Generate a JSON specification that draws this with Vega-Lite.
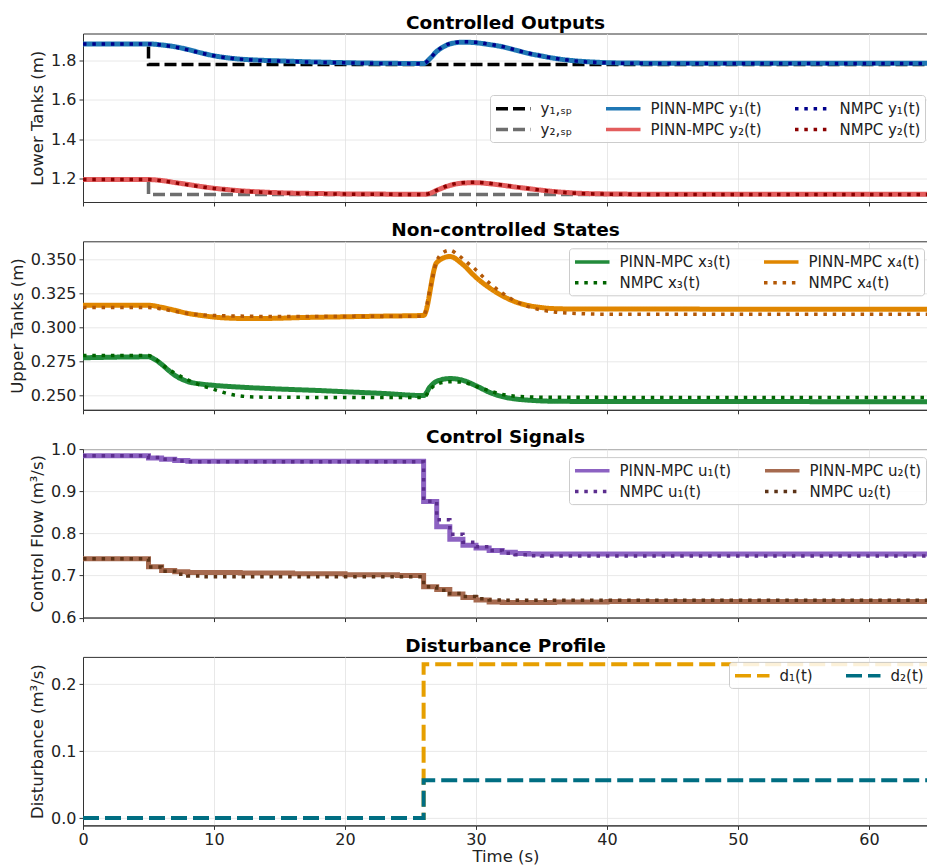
{
  "$schema": "https://vega.github.io/schema/vega-lite/v6.json",
  "padding": {"left": 8, "top": 12.5, "right": 0, "bottom": 0},
  "background": "white",
  "spacing": 38.8,
  "bounds": "flush",
  "config": {
    "font": "DejaVu Sans",
    "view": {"stroke": "#333333", "strokeWidth": 1},
    "title": {"font": "DejaVu Sans", "fontSize": 18.5, "fontWeight": "bold", "anchor": "middle", "offset": 1.5, "color": "#000000", "frame": "group"},
    "axis": {"labelFont": "DejaVu Sans", "labelFontSize": 16, "titleFont": "DejaVu Sans", "titleFontSize": 16.5, "titleFontWeight": "normal", "labelColor": "#222222", "titleColor": "#222222", "tickColor": "#333333", "domainColor": "#333333", "tickSize": 4, "labelPadding": 3, "gridColor": "#e2e2e2", "gridWidth": 0.8, "labelFlush": false, "labelOverlap": false},
    "axisY": {"titlePadding": 5},
    "legend": {"symbolType": "M-1,0H3.6", "symbolSize": 225, "symbolStrokeWidth": 3.5, "labelFont": "DejaVu Sans", "labelFontSize": 15, "labelColor": "#222222", "labelOffset": 27.5, "columnPadding": 26, "rowPadding": 3, "padding": 4, "strokeColor": "#cccccc", "fillColor": "rgba(255,255,255,0.85)", "cornerRadius": 3, "title": null}
  },
  "resolve": {"scale": {"x": "independent", "y": "independent", "color": "independent", "strokeDash": "independent"}, "legend": {"color": "independent", "strokeDash": "independent"}},
  "datasets": {
    "p1sp": [
      {"t": 0, "v": 1.883, "s": "y₁,ₛₚ"}, {"t": 5, "v": 1.779, "s": "y₁,ₛₚ"}, {"t": 64.5, "v": 1.779, "s": "y₁,ₛₚ"},
      {"t": 0, "v": 1.195, "s": "y₂,ₛₚ"}, {"t": 5, "v": 1.119, "s": "y₂,ₛₚ"}, {"t": 64.5, "v": 1.119, "s": "y₂,ₛₚ"}
    ],
    "p1pinn": [
      {"t": 0, "v": 1.883, "s": "PINN-MPC y₁(t)"}, {"t": 5, "v": 1.883, "s": "PINN-MPC y₁(t)"}, {"t": 6, "v": 1.878, "s": "PINN-MPC y₁(t)"}, {"t": 7, "v": 1.869, "s": "PINN-MPC y₁(t)"}, {"t": 8, "v": 1.855, "s": "PINN-MPC y₁(t)"}, {"t": 9, "v": 1.838, "s": "PINN-MPC y₁(t)"}, {"t": 10, "v": 1.823, "s": "PINN-MPC y₁(t)"}, {"t": 11, "v": 1.813, "s": "PINN-MPC y₁(t)"}, {"t": 12, "v": 1.806, "s": "PINN-MPC y₁(t)"}, {"t": 13, "v": 1.802, "s": "PINN-MPC y₁(t)"}, {"t": 15, "v": 1.797, "s": "PINN-MPC y₁(t)"}, {"t": 18, "v": 1.791, "s": "PINN-MPC y₁(t)"}, {"t": 20, "v": 1.788, "s": "PINN-MPC y₁(t)"}, {"t": 23, "v": 1.785, "s": "PINN-MPC y₁(t)"}, {"t": 26, "v": 1.784, "s": "PINN-MPC y₁(t)"}, {"t": 26.5, "v": 1.81, "s": "PINN-MPC y₁(t)"}, {"t": 27, "v": 1.845, "s": "PINN-MPC y₁(t)"}, {"t": 27.5, "v": 1.868, "s": "PINN-MPC y₁(t)"}, {"t": 28, "v": 1.883, "s": "PINN-MPC y₁(t)"}, {"t": 29, "v": 1.892, "s": "PINN-MPC y₁(t)"}, {"t": 30, "v": 1.889, "s": "PINN-MPC y₁(t)"}, {"t": 31, "v": 1.880, "s": "PINN-MPC y₁(t)"}, {"t": 32, "v": 1.869, "s": "PINN-MPC y₁(t)"}, {"t": 33, "v": 1.852, "s": "PINN-MPC y₁(t)"}, {"t": 34, "v": 1.835, "s": "PINN-MPC y₁(t)"}, {"t": 35, "v": 1.822, "s": "PINN-MPC y₁(t)"}, {"t": 36, "v": 1.810, "s": "PINN-MPC y₁(t)"}, {"t": 37, "v": 1.801, "s": "PINN-MPC y₁(t)"}, {"t": 38, "v": 1.795, "s": "PINN-MPC y₁(t)"}, {"t": 39, "v": 1.791, "s": "PINN-MPC y₁(t)"}, {"t": 40, "v": 1.788, "s": "PINN-MPC y₁(t)"}, {"t": 42, "v": 1.786, "s": "PINN-MPC y₁(t)"}, {"t": 45, "v": 1.785, "s": "PINN-MPC y₁(t)"}, {"t": 64.5, "v": 1.785, "s": "PINN-MPC y₁(t)"},
      {"t": 0, "v": 1.195, "s": "PINN-MPC y₂(t)"}, {"t": 5, "v": 1.195, "s": "PINN-MPC y₂(t)"}, {"t": 6, "v": 1.19, "s": "PINN-MPC y₂(t)"}, {"t": 7, "v": 1.18, "s": "PINN-MPC y₂(t)"}, {"t": 8, "v": 1.17, "s": "PINN-MPC y₂(t)"}, {"t": 9, "v": 1.16, "s": "PINN-MPC y₂(t)"}, {"t": 10, "v": 1.151, "s": "PINN-MPC y₂(t)"}, {"t": 11, "v": 1.144, "s": "PINN-MPC y₂(t)"}, {"t": 12, "v": 1.138, "s": "PINN-MPC y₂(t)"}, {"t": 13, "v": 1.134, "s": "PINN-MPC y₂(t)"}, {"t": 15, "v": 1.128, "s": "PINN-MPC y₂(t)"}, {"t": 18, "v": 1.124, "s": "PINN-MPC y₂(t)"}, {"t": 20, "v": 1.122, "s": "PINN-MPC y₂(t)"}, {"t": 23, "v": 1.121, "s": "PINN-MPC y₂(t)"}, {"t": 26, "v": 1.12, "s": "PINN-MPC y₂(t)"}, {"t": 26.5, "v": 1.125, "s": "PINN-MPC y₂(t)"}, {"t": 27, "v": 1.14, "s": "PINN-MPC y₂(t)"}, {"t": 28, "v": 1.165, "s": "PINN-MPC y₂(t)"}, {"t": 29, "v": 1.177, "s": "PINN-MPC y₂(t)"}, {"t": 30, "v": 1.179, "s": "PINN-MPC y₂(t)"}, {"t": 31, "v": 1.174, "s": "PINN-MPC y₂(t)"}, {"t": 32, "v": 1.166, "s": "PINN-MPC y₂(t)"}, {"t": 33, "v": 1.157, "s": "PINN-MPC y₂(t)"}, {"t": 34, "v": 1.149, "s": "PINN-MPC y₂(t)"}, {"t": 35, "v": 1.141, "s": "PINN-MPC y₂(t)"}, {"t": 36, "v": 1.134, "s": "PINN-MPC y₂(t)"}, {"t": 37, "v": 1.129, "s": "PINN-MPC y₂(t)"}, {"t": 38, "v": 1.125, "s": "PINN-MPC y₂(t)"}, {"t": 39, "v": 1.123, "s": "PINN-MPC y₂(t)"}, {"t": 40, "v": 1.122, "s": "PINN-MPC y₂(t)"}, {"t": 45, "v": 1.12, "s": "PINN-MPC y₂(t)"}, {"t": 64.5, "v": 1.12, "s": "PINN-MPC y₂(t)"}
    ],
    "p1nmpc": [
      {"t": 0, "v": 1.883, "s": "NMPC y₁(t)"}, {"t": 5, "v": 1.883, "s": "NMPC y₁(t)"}, {"t": 6, "v": 1.877, "s": "NMPC y₁(t)"}, {"t": 7, "v": 1.867, "s": "NMPC y₁(t)"}, {"t": 8, "v": 1.853, "s": "NMPC y₁(t)"}, {"t": 9, "v": 1.837, "s": "NMPC y₁(t)"}, {"t": 10, "v": 1.823, "s": "NMPC y₁(t)"}, {"t": 11, "v": 1.813, "s": "NMPC y₁(t)"}, {"t": 12, "v": 1.806, "s": "NMPC y₁(t)"}, {"t": 13, "v": 1.801, "s": "NMPC y₁(t)"}, {"t": 15, "v": 1.796, "s": "NMPC y₁(t)"}, {"t": 18, "v": 1.790, "s": "NMPC y₁(t)"}, {"t": 20, "v": 1.787, "s": "NMPC y₁(t)"}, {"t": 23, "v": 1.784, "s": "NMPC y₁(t)"}, {"t": 26, "v": 1.783, "s": "NMPC y₁(t)"}, {"t": 26.5, "v": 1.81, "s": "NMPC y₁(t)"}, {"t": 27, "v": 1.846, "s": "NMPC y₁(t)"}, {"t": 27.5, "v": 1.870, "s": "NMPC y₁(t)"}, {"t": 28, "v": 1.885, "s": "NMPC y₁(t)"}, {"t": 29, "v": 1.894, "s": "NMPC y₁(t)"}, {"t": 30, "v": 1.891, "s": "NMPC y₁(t)"}, {"t": 31, "v": 1.882, "s": "NMPC y₁(t)"}, {"t": 32, "v": 1.870, "s": "NMPC y₁(t)"}, {"t": 33, "v": 1.853, "s": "NMPC y₁(t)"}, {"t": 34, "v": 1.836, "s": "NMPC y₁(t)"}, {"t": 35, "v": 1.822, "s": "NMPC y₁(t)"}, {"t": 36, "v": 1.810, "s": "NMPC y₁(t)"}, {"t": 37, "v": 1.801, "s": "NMPC y₁(t)"}, {"t": 38, "v": 1.794, "s": "NMPC y₁(t)"}, {"t": 39, "v": 1.790, "s": "NMPC y₁(t)"}, {"t": 40, "v": 1.787, "s": "NMPC y₁(t)"}, {"t": 42, "v": 1.785, "s": "NMPC y₁(t)"}, {"t": 45, "v": 1.784, "s": "NMPC y₁(t)"}, {"t": 64.5, "v": 1.784, "s": "NMPC y₁(t)"},
      {"t": 0, "v": 1.195, "s": "NMPC y₂(t)"}, {"t": 5, "v": 1.195, "s": "NMPC y₂(t)"}, {"t": 6, "v": 1.189, "s": "NMPC y₂(t)"}, {"t": 7, "v": 1.179, "s": "NMPC y₂(t)"}, {"t": 8, "v": 1.168, "s": "NMPC y₂(t)"}, {"t": 9, "v": 1.158, "s": "NMPC y₂(t)"}, {"t": 10, "v": 1.150, "s": "NMPC y₂(t)"}, {"t": 11, "v": 1.143, "s": "NMPC y₂(t)"}, {"t": 12, "v": 1.137, "s": "NMPC y₂(t)"}, {"t": 13, "v": 1.133, "s": "NMPC y₂(t)"}, {"t": 15, "v": 1.127, "s": "NMPC y₂(t)"}, {"t": 18, "v": 1.123, "s": "NMPC y₂(t)"}, {"t": 20, "v": 1.121, "s": "NMPC y₂(t)"}, {"t": 23, "v": 1.120, "s": "NMPC y₂(t)"}, {"t": 26, "v": 1.119, "s": "NMPC y₂(t)"}, {"t": 26.5, "v": 1.125, "s": "NMPC y₂(t)"}, {"t": 27, "v": 1.141, "s": "NMPC y₂(t)"}, {"t": 28, "v": 1.167, "s": "NMPC y₂(t)"}, {"t": 29, "v": 1.179, "s": "NMPC y₂(t)"}, {"t": 30, "v": 1.181, "s": "NMPC y₂(t)"}, {"t": 31, "v": 1.176, "s": "NMPC y₂(t)"}, {"t": 32, "v": 1.167, "s": "NMPC y₂(t)"}, {"t": 33, "v": 1.158, "s": "NMPC y₂(t)"}, {"t": 34, "v": 1.149, "s": "NMPC y₂(t)"}, {"t": 35, "v": 1.141, "s": "NMPC y₂(t)"}, {"t": 36, "v": 1.134, "s": "NMPC y₂(t)"}, {"t": 37, "v": 1.128, "s": "NMPC y₂(t)"}, {"t": 38, "v": 1.124, "s": "NMPC y₂(t)"}, {"t": 39, "v": 1.122, "s": "NMPC y₂(t)"}, {"t": 40, "v": 1.121, "s": "NMPC y₂(t)"}, {"t": 45, "v": 1.119, "s": "NMPC y₂(t)"}, {"t": 64.5, "v": 1.119, "s": "NMPC y₂(t)"}
    ],
    "p2pinn": [
      {"t": 0, "v": 0.2778, "s": "PINN-MPC x₃(t)"}, {"t": 5, "v": 0.2785, "s": "PINN-MPC x₃(t)"}, {"t": 5.5, "v": 0.2765, "s": "PINN-MPC x₃(t)"}, {"t": 6, "v": 0.273, "s": "PINN-MPC x₃(t)"}, {"t": 6.5, "v": 0.2688, "s": "PINN-MPC x₃(t)"}, {"t": 7, "v": 0.265, "s": "PINN-MPC x₃(t)"}, {"t": 8, "v": 0.2603, "s": "PINN-MPC x₃(t)"}, {"t": 9, "v": 0.2585, "s": "PINN-MPC x₃(t)"}, {"t": 10, "v": 0.2575, "s": "PINN-MPC x₃(t)"}, {"t": 12, "v": 0.2562, "s": "PINN-MPC x₃(t)"}, {"t": 15, "v": 0.2548, "s": "PINN-MPC x₃(t)"}, {"t": 18, "v": 0.2537, "s": "PINN-MPC x₃(t)"}, {"t": 20, "v": 0.2528, "s": "PINN-MPC x₃(t)"}, {"t": 23, "v": 0.2515, "s": "PINN-MPC x₃(t)"}, {"t": 26, "v": 0.25, "s": "PINN-MPC x₃(t)"}, {"t": 26.5, "v": 0.2565, "s": "PINN-MPC x₃(t)"}, {"t": 27, "v": 0.2605, "s": "PINN-MPC x₃(t)"}, {"t": 28, "v": 0.2625, "s": "PINN-MPC x₃(t)"}, {"t": 29, "v": 0.2612, "s": "PINN-MPC x₃(t)"}, {"t": 30, "v": 0.2572, "s": "PINN-MPC x₃(t)"}, {"t": 31, "v": 0.2525, "s": "PINN-MPC x₃(t)"}, {"t": 32, "v": 0.2492, "s": "PINN-MPC x₃(t)"}, {"t": 33, "v": 0.2475, "s": "PINN-MPC x₃(t)"}, {"t": 34, "v": 0.2466, "s": "PINN-MPC x₃(t)"}, {"t": 36, "v": 0.2458, "s": "PINN-MPC x₃(t)"}, {"t": 40, "v": 0.2456, "s": "PINN-MPC x₃(t)"}, {"t": 64.5, "v": 0.2455, "s": "PINN-MPC x₃(t)"},
      {"t": 0, "v": 0.3165, "s": "PINN-MPC x₄(t)"}, {"t": 5, "v": 0.3165, "s": "PINN-MPC x₄(t)"}, {"t": 6, "v": 0.315, "s": "PINN-MPC x₄(t)"}, {"t": 7, "v": 0.3128, "s": "PINN-MPC x₄(t)"}, {"t": 8, "v": 0.3105, "s": "PINN-MPC x₄(t)"}, {"t": 9, "v": 0.309, "s": "PINN-MPC x₄(t)"}, {"t": 10, "v": 0.3078, "s": "PINN-MPC x₄(t)"}, {"t": 11, "v": 0.3071, "s": "PINN-MPC x₄(t)"}, {"t": 12, "v": 0.3068, "s": "PINN-MPC x₄(t)"}, {"t": 14, "v": 0.3068, "s": "PINN-MPC x₄(t)"}, {"t": 17, "v": 0.3075, "s": "PINN-MPC x₄(t)"}, {"t": 20, "v": 0.308, "s": "PINN-MPC x₄(t)"}, {"t": 23, "v": 0.3085, "s": "PINN-MPC x₄(t)"}, {"t": 26, "v": 0.309, "s": "PINN-MPC x₄(t)"}, {"t": 27, "v": 0.348, "s": "PINN-MPC x₄(t)"}, {"t": 28, "v": 0.3524, "s": "PINN-MPC x₄(t)"}, {"t": 29, "v": 0.3465, "s": "PINN-MPC x₄(t)"}, {"t": 30, "v": 0.337, "s": "PINN-MPC x₄(t)"}, {"t": 31, "v": 0.3295, "s": "PINN-MPC x₄(t)"}, {"t": 32, "v": 0.3235, "s": "PINN-MPC x₄(t)"}, {"t": 33, "v": 0.319, "s": "PINN-MPC x₄(t)"}, {"t": 34, "v": 0.3163, "s": "PINN-MPC x₄(t)"}, {"t": 35, "v": 0.3148, "s": "PINN-MPC x₄(t)"}, {"t": 36, "v": 0.314, "s": "PINN-MPC x₄(t)"}, {"t": 38, "v": 0.3137, "s": "PINN-MPC x₄(t)"}, {"t": 64.5, "v": 0.3136, "s": "PINN-MPC x₄(t)"}
    ],
    "p2nmpc": [
      {"t": 0, "v": 0.2795, "s": "NMPC x₃(t)"}, {"t": 5, "v": 0.2795, "s": "NMPC x₃(t)"}, {"t": 5.5, "v": 0.277, "s": "NMPC x₃(t)"}, {"t": 6, "v": 0.273, "s": "NMPC x₃(t)"}, {"t": 7, "v": 0.2665, "s": "NMPC x₃(t)"}, {"t": 8, "v": 0.2615, "s": "NMPC x₃(t)"}, {"t": 9, "v": 0.2575, "s": "NMPC x₃(t)"}, {"t": 10, "v": 0.2545, "s": "NMPC x₃(t)"}, {"t": 11, "v": 0.2515, "s": "NMPC x₃(t)"}, {"t": 12, "v": 0.2497, "s": "NMPC x₃(t)"}, {"t": 13, "v": 0.249, "s": "NMPC x₃(t)"}, {"t": 15, "v": 0.2487, "s": "NMPC x₃(t)"}, {"t": 20, "v": 0.2486, "s": "NMPC x₃(t)"}, {"t": 26, "v": 0.2485, "s": "NMPC x₃(t)"}, {"t": 26.5, "v": 0.2545, "s": "NMPC x₃(t)"}, {"t": 27, "v": 0.2585, "s": "NMPC x₃(t)"}, {"t": 28, "v": 0.2602, "s": "NMPC x₃(t)"}, {"t": 29, "v": 0.2598, "s": "NMPC x₃(t)"}, {"t": 30, "v": 0.2568, "s": "NMPC x₃(t)"}, {"t": 31, "v": 0.2535, "s": "NMPC x₃(t)"}, {"t": 32, "v": 0.2508, "s": "NMPC x₃(t)"}, {"t": 33, "v": 0.2495, "s": "NMPC x₃(t)"}, {"t": 34, "v": 0.249, "s": "NMPC x₃(t)"}, {"t": 36, "v": 0.2487, "s": "NMPC x₃(t)"}, {"t": 64.5, "v": 0.2485, "s": "NMPC x₃(t)"},
      {"t": 0, "v": 0.3148, "s": "NMPC x₄(t)"}, {"t": 5, "v": 0.3148, "s": "NMPC x₄(t)"}, {"t": 6, "v": 0.3138, "s": "NMPC x₄(t)"}, {"t": 7, "v": 0.312, "s": "NMPC x₄(t)"}, {"t": 8, "v": 0.3105, "s": "NMPC x₄(t)"}, {"t": 9, "v": 0.3095, "s": "NMPC x₄(t)"}, {"t": 10, "v": 0.309, "s": "NMPC x₄(t)"}, {"t": 12, "v": 0.3085, "s": "NMPC x₄(t)"}, {"t": 15, "v": 0.3082, "s": "NMPC x₄(t)"}, {"t": 20, "v": 0.3083, "s": "NMPC x₄(t)"}, {"t": 26, "v": 0.3085, "s": "NMPC x₄(t)"}, {"t": 26.5, "v": 0.329, "s": "NMPC x₄(t)"}, {"t": 27, "v": 0.349, "s": "NMPC x₄(t)"}, {"t": 27.3, "v": 0.3538, "s": "NMPC x₄(t)"}, {"t": 28, "v": 0.357, "s": "NMPC x₄(t)"}, {"t": 28.6, "v": 0.3538, "s": "NMPC x₄(t)"}, {"t": 29.2, "v": 0.349, "s": "NMPC x₄(t)"}, {"t": 30, "v": 0.3425, "s": "NMPC x₄(t)"}, {"t": 31, "v": 0.333, "s": "NMPC x₄(t)"}, {"t": 32, "v": 0.3255, "s": "NMPC x₄(t)"}, {"t": 33, "v": 0.3195, "s": "NMPC x₄(t)"}, {"t": 34, "v": 0.3155, "s": "NMPC x₄(t)"}, {"t": 35, "v": 0.313, "s": "NMPC x₄(t)"}, {"t": 36, "v": 0.3115, "s": "NMPC x₄(t)"}, {"t": 38, "v": 0.3103, "s": "NMPC x₄(t)"}, {"t": 40, "v": 0.3099, "s": "NMPC x₄(t)"}, {"t": 64.5, "v": 0.3099, "s": "NMPC x₄(t)"}
    ],
    "p3pinn": [
      {"t": 0, "v": 0.984, "s": "PINN-MPC u₁(t)"}, {"t": 5, "v": 0.979, "s": "PINN-MPC u₁(t)"}, {"t": 6, "v": 0.976, "s": "PINN-MPC u₁(t)"}, {"t": 7, "v": 0.973, "s": "PINN-MPC u₁(t)"}, {"t": 8, "v": 0.971, "s": "PINN-MPC u₁(t)"}, {"t": 26, "v": 0.8756, "s": "PINN-MPC u₁(t)"}, {"t": 27, "v": 0.8155, "s": "PINN-MPC u₁(t)"}, {"t": 28, "v": 0.786, "s": "PINN-MPC u₁(t)"}, {"t": 29, "v": 0.772, "s": "PINN-MPC u₁(t)"}, {"t": 30, "v": 0.765, "s": "PINN-MPC u₁(t)"}, {"t": 31, "v": 0.759, "s": "PINN-MPC u₁(t)"}, {"t": 32, "v": 0.755, "s": "PINN-MPC u₁(t)"}, {"t": 33, "v": 0.752, "s": "PINN-MPC u₁(t)"}, {"t": 34, "v": 0.751, "s": "PINN-MPC u₁(t)"}, {"t": 64.5, "v": 0.751, "s": "PINN-MPC u₁(t)"},
      {"t": 0, "v": 0.74, "s": "PINN-MPC u₂(t)"}, {"t": 5, "v": 0.7205, "s": "PINN-MPC u₂(t)"}, {"t": 6, "v": 0.712, "s": "PINN-MPC u₂(t)"}, {"t": 7, "v": 0.709, "s": "PINN-MPC u₂(t)"}, {"t": 8, "v": 0.707, "s": "PINN-MPC u₂(t)"}, {"t": 12, "v": 0.706, "s": "PINN-MPC u₂(t)"}, {"t": 16, "v": 0.704, "s": "PINN-MPC u₂(t)"}, {"t": 20, "v": 0.702, "s": "PINN-MPC u₂(t)"}, {"t": 24, "v": 0.7, "s": "PINN-MPC u₂(t)"}, {"t": 26, "v": 0.673, "s": "PINN-MPC u₂(t)"}, {"t": 27, "v": 0.667, "s": "PINN-MPC u₂(t)"}, {"t": 28, "v": 0.656, "s": "PINN-MPC u₂(t)"}, {"t": 29, "v": 0.648, "s": "PINN-MPC u₂(t)"}, {"t": 30, "v": 0.642, "s": "PINN-MPC u₂(t)"}, {"t": 31, "v": 0.637, "s": "PINN-MPC u₂(t)"}, {"t": 32, "v": 0.636, "s": "PINN-MPC u₂(t)"}, {"t": 36, "v": 0.637, "s": "PINN-MPC u₂(t)"}, {"t": 40, "v": 0.638, "s": "PINN-MPC u₂(t)"}, {"t": 64.5, "v": 0.638, "s": "PINN-MPC u₂(t)"}
    ],
    "p3nmpc": [
      {"t": 0, "v": 0.984, "s": "NMPC u₁(t)"}, {"t": 5, "v": 0.98, "s": "NMPC u₁(t)"}, {"t": 6, "v": 0.976, "s": "NMPC u₁(t)"}, {"t": 7, "v": 0.972, "s": "NMPC u₁(t)"}, {"t": 8, "v": 0.97, "s": "NMPC u₁(t)"}, {"t": 26, "v": 0.876, "s": "NMPC u₁(t)"}, {"t": 27, "v": 0.832, "s": "NMPC u₁(t)"}, {"t": 28, "v": 0.798, "s": "NMPC u₁(t)"}, {"t": 29, "v": 0.779, "s": "NMPC u₁(t)"}, {"t": 30, "v": 0.768, "s": "NMPC u₁(t)"}, {"t": 31, "v": 0.759, "s": "NMPC u₁(t)"}, {"t": 32, "v": 0.753, "s": "NMPC u₁(t)"}, {"t": 33, "v": 0.749, "s": "NMPC u₁(t)"}, {"t": 34, "v": 0.747, "s": "NMPC u₁(t)"}, {"t": 35, "v": 0.746, "s": "NMPC u₁(t)"}, {"t": 64.5, "v": 0.746, "s": "NMPC u₁(t)"},
      {"t": 0, "v": 0.74, "s": "NMPC u₂(t)"}, {"t": 5, "v": 0.72, "s": "NMPC u₂(t)"}, {"t": 6, "v": 0.71, "s": "NMPC u₂(t)"}, {"t": 7, "v": 0.703, "s": "NMPC u₂(t)"}, {"t": 8, "v": 0.699, "s": "NMPC u₂(t)"}, {"t": 9, "v": 0.697, "s": "NMPC u₂(t)"}, {"t": 26, "v": 0.673, "s": "NMPC u₂(t)"}, {"t": 27, "v": 0.665, "s": "NMPC u₂(t)"}, {"t": 28, "v": 0.657, "s": "NMPC u₂(t)"}, {"t": 29, "v": 0.65, "s": "NMPC u₂(t)"}, {"t": 30, "v": 0.645, "s": "NMPC u₂(t)"}, {"t": 31, "v": 0.642, "s": "NMPC u₂(t)"}, {"t": 32, "v": 0.641, "s": "NMPC u₂(t)"}, {"t": 64.5, "v": 0.641, "s": "NMPC u₂(t)"}
    ],
    "p4": [
      {"t": 0, "v": 0, "s": "d₁(t)"}, {"t": 26, "v": 0.23, "s": "d₁(t)"}, {"t": 64.5, "v": 0.23, "s": "d₁(t)"},
      {"t": 0, "v": 0, "s": "d₂(t)"}, {"t": 26, "v": 0.0565, "s": "d₂(t)"}, {"t": 64.5, "v": 0.0565, "s": "d₂(t)"}
    ]
  },
  "vconcat": [
    {
      "title": "Controlled Outputs",
      "width": 845, "height": 168.5,
      "encoding": {
        "x": {"field": "t", "type": "quantitative", "scale": {"domain": [0, 64.5], "nice": false, "zero": false}, "axis": {"values": [0, 10, 20, 30, 40, 50, 60], "labels": false, "title": null}},
        "y": {"field": "v", "type": "quantitative", "scale": {"domain": [1.081, 1.936], "nice": false, "zero": false}, "axis": {"values": [1.2, 1.4, 1.6, 1.8], "format": ".1f", "title": "Lower Tanks (m)"}},
        "color": {"field": "s", "type": "nominal", "scale": {"domain": ["y₁,ₛₚ", "y₂,ₛₚ", "PINN-MPC y₁(t)", "PINN-MPC y₂(t)", "NMPC y₁(t)", "NMPC y₂(t)"], "range": ["#000000", "#6e6e6e", "#1f77b4", "#e35d5d", "#00008b", "#8b0000"]}, "legend": {"orient": "none", "legendX": 407, "legendY": 61.5, "columns": 3}},
        "strokeDash": {"field": "s", "type": "nominal", "scale": {"domain": ["y₁,ₛₚ", "y₂,ₛₚ", "PINN-MPC y₁(t)", "PINN-MPC y₂(t)", "NMPC y₁(t)", "NMPC y₂(t)"], "range": [[12, 5], [12, 5], [1, 0], [1, 0], [3.5, 5.8], [3.5, 5.8]]}, "legend": {"orient": "none", "legendX": 407, "legendY": 61.5, "columns": 3}}
      },
      "layer": [
        {"data": {"name": "p1sp"}, "mark": {"type": "line", "interpolate": "step-after", "strokeWidth": 3.5, "clip": true}},
        {"data": {"name": "p1pinn"}, "mark": {"type": "line", "interpolate": "monotone", "strokeWidth": 5, "clip": true}},
        {"data": {"name": "p1nmpc"}, "mark": {"type": "line", "interpolate": "monotone", "strokeWidth": 3.5, "clip": true}}
      ]
    },
    {
      "title": "Non-controlled States",
      "width": 845, "height": 168.5,
      "encoding": {
        "x": {"field": "t", "type": "quantitative", "scale": {"domain": [0, 64.5], "nice": false, "zero": false}, "axis": {"values": [0, 10, 20, 30, 40, 50, 60], "labels": false, "title": null}},
        "y": {"field": "v", "type": "quantitative", "scale": {"domain": [0.2395, 0.3636], "nice": false, "zero": false}, "axis": {"values": [0.25, 0.275, 0.3, 0.325, 0.35], "format": ".3f", "title": "Upper Tanks (m)"}},
        "color": {"field": "s", "type": "nominal", "scale": {"domain": ["PINN-MPC x₃(t)", "NMPC x₃(t)", "PINN-MPC x₄(t)", "NMPC x₄(t)"], "range": ["#228b3b", "#006400", "#e08600", "#b35806"]}, "legend": {"orient": "none", "legendX": 486, "legendY": 7, "columns": 2}},
        "strokeDash": {"field": "s", "type": "nominal", "scale": {"domain": ["PINN-MPC x₃(t)", "NMPC x₃(t)", "PINN-MPC x₄(t)", "NMPC x₄(t)"], "range": [[1, 0], [3.5, 5.8], [1, 0], [3.5, 5.8]]}, "legend": {"orient": "none", "legendX": 486, "legendY": 7, "columns": 2}}
      },
      "layer": [
        {"data": {"name": "p2pinn"}, "mark": {"type": "line", "interpolate": "monotone", "strokeWidth": 5, "clip": true}},
        {"data": {"name": "p2nmpc"}, "mark": {"type": "line", "interpolate": "monotone", "strokeWidth": 3.5, "clip": true}}
      ]
    },
    {
      "title": {"text": "Control Signals", "offset": -5.5},
      "width": 845, "height": 168.5,
      "encoding": {
        "x": {"field": "t", "type": "quantitative", "scale": {"domain": [0, 64.5], "nice": false, "zero": false}, "axis": {"values": [0, 10, 20, 30, 40, 50, 60], "labels": false, "title": null}},
        "y": {"field": "v", "type": "quantitative", "scale": {"domain": [0.6, 1.0], "nice": false, "zero": false}, "axis": {"values": [0.6, 0.7, 0.8, 0.9, 1.0], "format": ".1f", "title": "Control Flow (m³/s)"}},
        "color": {"field": "s", "type": "nominal", "scale": {"domain": ["PINN-MPC u₁(t)", "NMPC u₁(t)", "PINN-MPC u₂(t)", "NMPC u₂(t)"], "range": ["#8c62c2", "#5b2d8e", "#a66a4f", "#5c3317"]}, "legend": {"orient": "none", "legendX": 486, "legendY": 8, "columns": 2}},
        "strokeDash": {"field": "s", "type": "nominal", "scale": {"domain": ["PINN-MPC u₁(t)", "NMPC u₁(t)", "PINN-MPC u₂(t)", "NMPC u₂(t)"], "range": [[1, 0], [3.5, 5.8], [1, 0], [3.5, 5.8]]}, "legend": {"orient": "none", "legendX": 486, "legendY": 8, "columns": 2}}
      },
      "layer": [
        {"data": {"name": "p3pinn"}, "mark": {"type": "line", "interpolate": "step-after", "strokeWidth": 5, "clip": true}},
        {"data": {"name": "p3nmpc"}, "mark": {"type": "line", "interpolate": "step-after", "strokeWidth": 3.5, "clip": true}}
      ]
    },
    {
      "title": "Disturbance Profile",
      "width": 845, "height": 168.5,
      "encoding": {
        "x": {"field": "t", "type": "quantitative", "scale": {"domain": [0, 64.5], "nice": false, "zero": false}, "axis": {"values": [0, 10, 20, 30, 40, 50, 60], "format": "d", "title": "Time (s)", "labelPadding": 2, "titlePadding": 1}},
        "y": {"field": "v", "type": "quantitative", "scale": {"domain": [-0.011, 0.241], "nice": false, "zero": false}, "axis": {"values": [0, 0.1, 0.2], "format": ".1f", "title": "Disturbance (m³/s)"}},
        "color": {"field": "s", "type": "nominal", "scale": {"domain": ["d₁(t)", "d₂(t)"], "range": ["#e69f00", "#006e82"]}, "legend": {"orient": "none", "legendX": 646, "legendY": 5, "columns": 2}},
        "strokeDash": {"field": "s", "type": "nominal", "scale": {"domain": ["d₁(t)", "d₂(t)"], "range": [[16, 6], [16, 6]]}, "legend": {"orient": "none", "legendX": 646, "legendY": 5, "columns": 2}}
      },
      "layer": [
        {"data": {"name": "p4"}, "mark": {"type": "line", "interpolate": "step-after", "strokeWidth": 4, "clip": true}}
      ]
    }
  ]
}
